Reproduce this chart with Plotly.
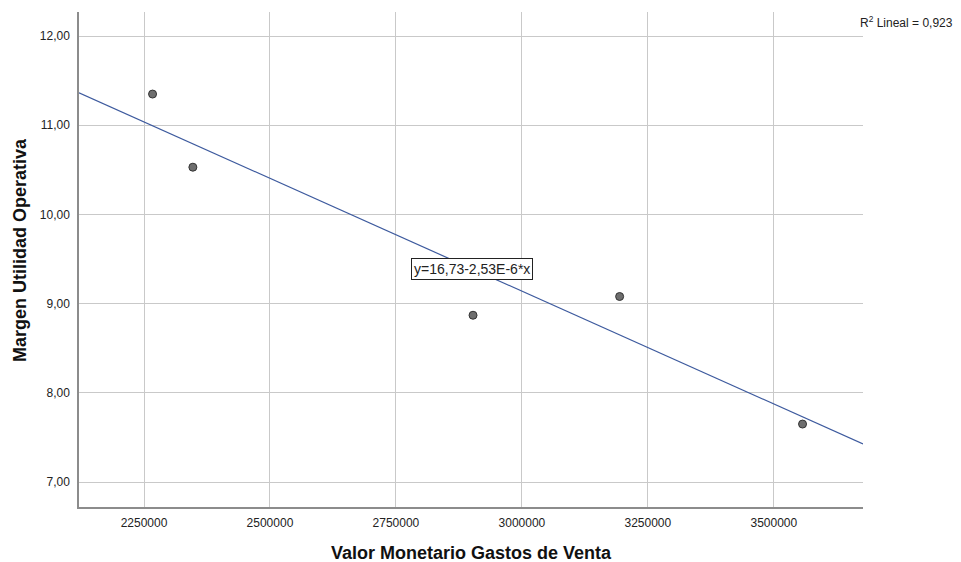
import numpy as np
import plotly.graph_objects as go

# Data
gastos_venta = [2267000, 2347000, 2903000, 3194000, 3557000]
margen_utilidad = [11.35, 10.53, 8.87, 9.08, 7.65]

# Fitted line as shown in the chart
intercepto = 16.73
pendiente = -2.53e-6
r2_text = "R<sup>2</sup> Lineal = 0,923"
eq_text = "y=16,73-2,53E-6*x"

x_range = [2121000, 3677000]
y_range = [6.72, 12.27]

x_ticks = [2250000, 2500000, 2750000, 3000000, 3250000, 3500000]
y_ticks = [7, 8, 9, 10, 11, 12]

line_x = np.array(x_range)
line_y = intercepto + pendiente * line_x

W, H = 961, 562
L, R, T, B = 79, 98, 12, 55
pw = W - L - R
ph = H - T - B


def px_to_paper(px, py):
    return (px - L) / pw, (H - B - py) / ph


fig = go.Figure()
fig.add_trace(go.Scatter(
    x=line_x, y=line_y, mode="lines",
    line=dict(color="#3d5a9e", width=1.2),
    hoverinfo="skip", showlegend=False))
fig.add_trace(go.Scatter(
    x=gastos_venta, y=margen_utilidad, mode="markers",
    marker=dict(size=8, color="#6e6e6e", line=dict(color="#333333", width=1)),
    showlegend=False))

xr, yr = px_to_paper(955, 22)
xt, yt = px_to_paper(20, 250)
xt2, yt2 = px_to_paper(471, 553)

fig.update_layout(
    width=W, height=H,
    margin=dict(l=L, r=R, t=T, b=B),
    paper_bgcolor="white", plot_bgcolor="white",
    separators=",.",
    font=dict(family="Liberation Sans, Arial, sans-serif", size=12, color="#222222"),
    xaxis=dict(
        range=x_range, tickvals=x_ticks, tickformat="d",
        showgrid=True, gridcolor="#c9c9c9", gridwidth=1,
        showline=True, linecolor="#8c8c8c", linewidth=1.5,
        zeroline=False, ticks="", ticklabelstandoff=4,
        tickfont=dict(size=12, color="#222222")),
    yaxis=dict(
        range=y_range, tickvals=y_ticks, tickformat=".2f",
        showgrid=True, gridcolor="#c9c9c9", gridwidth=1,
        showline=True, linecolor="#8c8c8c", linewidth=1.5,
        zeroline=False, ticks="", ticklabelstandoff=5,
        tickfont=dict(size=12, color="#222222")),
    annotations=[
        dict(text=eq_text, x=2900200, y=9.385, xref="x", yref="y",
             showarrow=False, bordercolor="#222222", borderwidth=1,
             bgcolor="white", borderpad=2,
             font=dict(size=14, color="#222222")),
        dict(text=r2_text, x=xr, y=yr, xref="paper", yref="paper",
             xanchor="right", yanchor="middle", showarrow=False,
             font=dict(size=12, color="#222222")),
        dict(text="<b>Margen Utilidad Operativa</b>", xref="paper", yref="paper",
             x=xt, y=yt, textangle=-90, showarrow=False,
             xanchor="center", yanchor="middle",
             font=dict(size=18, color="#111111")),
        dict(text="<b>Valor Monetario Gastos de Venta</b>", xref="paper", yref="paper",
             x=xt2, y=yt2, showarrow=False, xanchor="center", yanchor="middle",
             font=dict(size=18, color="#111111")),
    ],
)

fig.write_html("out.html", config={"displayModeBar": False},
               post_script="document.body.style.margin='0';document.body.style.overflow='hidden';")
